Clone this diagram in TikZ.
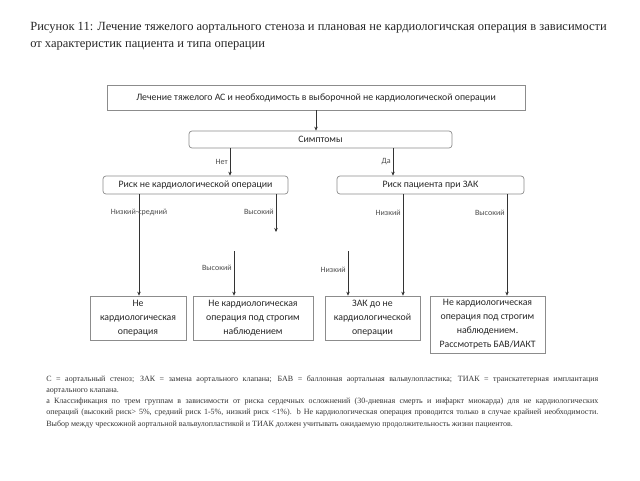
\documentclass[tikz,border=0pt]{standalone}
\usepackage{fontspec}
\setmainfont{Liberation Serif}
\newfontfamily\boxfont{Carlito}
\usetikzlibrary{calc,arrows.meta}

\begin{document}
\begin{tikzpicture}[x=1pt,y=-1pt,>={Stealth[length=4pt,width=3.5pt]},
		box/.style={draw=black!45,line width=0.7pt,inner sep=0pt,align=center,
			font=\boxfont\fontsize{9.8}{14}\selectfont,text=black!85},
		rbox/.style={box,rounded corners=3pt},
		lbl/.style={font=\boxfont\fontsize{8}{9}\selectfont,inner sep=2pt,text=black!70},
		every path/.style={line width=0.6pt,color=black!80}]
		\useasboundingbox (0,0) rectangle (640,480);
		% caption
		\node (0) [anchor=north west,inner sep=0pt,align=left,text=black!85,
			font=\fontsize{12.5}{16.5}\selectfont] at (30,22)
		{Рисунок 11: Лечение тяжелого аортального стеноза и плановая не кардиологичская операция в зависимости\\
			от характеристик пациента и типа операции};
		% boxes
		\node (1) [box,minimum width=418,minimum height=25] at (316,97.5)
		{Лечение тяжелого АС и необходимость в выборочной не кардиологической операции};
		\node (2) [rbox,minimum width=263,minimum height=17] at (320.5,139.5) {Симптомы};
		\node (3) [rbox,minimum width=185,minimum height=18] at (195.5,185) {Риск не кардиологической операции};
		\node (4) [rbox,minimum width=187,minimum height=18] at (430.5,185) {Риск пациента при ЗАК};
		\node (5) [box,minimum width=96,minimum height=44] at (138,318) {Не\\кардиологическая\\операция};
		\node (6) [box,minimum width=120,minimum height=44] at (253,318) {Не кардиологическая\\операция под строгим\\наблюдением};
		\node (7) [box,minimum width=95,minimum height=44] at (372.5,318) {ЗАК до не\\кардиологической\\операции};
		\node (8) [box,minimum width=115,minimum height=57] at (487.5,324.5) {Не кардиологическая\\операция под строгим\\наблюдением.\\Рассмотреть БАВ/ИАКТ};
		\coordinate (a) at (276,232);
		\coordinate (b) at (234,251);
		\coordinate (c) at (348,251);
		% connectors
		\draw [->] (1.south) -- (1.south |- 2.north);
		\draw [->] (230,0 |- 2.south) -- node [lbl,left] {Нет} (230,0 |- 3.north);
		\draw [->] (393,0 |- 2.south) -- node [lbl,left] {Да} (393,0 |- 4.north);
		\draw [->] (139,0 |- 3.south) -- node [lbl,pos=0.18] {Низкий-средний} (139,0 |- 5.north);
		\draw [->] (a |- 3.south) -- node [lbl,left,pos=0.47] {Высокий} (a);
		\draw [->] (b) -- node [lbl,left,pos=0.38] {Высокий} (b |- 6.north);
		\draw [->] (403,0 |- 4.south) -- node [lbl,left,pos=0.18] {Низкий} (403,0 |- 7.north);
		\draw [->] (507,0 |- 4.south) -- node [lbl,left,pos=0.18] {Высокий} (507,0 |- 8.north);
		\draw [->] (c) -- node [lbl,left,pos=0.42] {Низкий} (c |- 7.north);
		% footnote
		\node (9) [anchor=north west,inner sep=0pt,text width=552pt,align=justify,text=black!80,
			font=\fontsize{8}{11.3}\selectfont] at (46,375)
		{С = аортальный стеноз; ЗАК = замена аортального клапана; БАВ = баллонная аортальная вальвулопластика; ТИАК = транскатетерная имплантация\linebreak
			аортального клапана.\par
			а Классификация по трем группам в зависимости от риска сердечных осложнений (30-дневная смерть и инфаркт миокарда) для не кардиологических\linebreak
			операций (высокий риск> 5\%, средний риск 1-5\%, низкий риск <1\%). b Не кардиологическая операция проводится только в случае крайней необходимости.\linebreak
			Выбор между чрескожной аортальной вальвулопластикой и ТИАК должен учитывать ожидаемую продолжительность жизни пациентов.};
\end{tikzpicture}
\end{document}
